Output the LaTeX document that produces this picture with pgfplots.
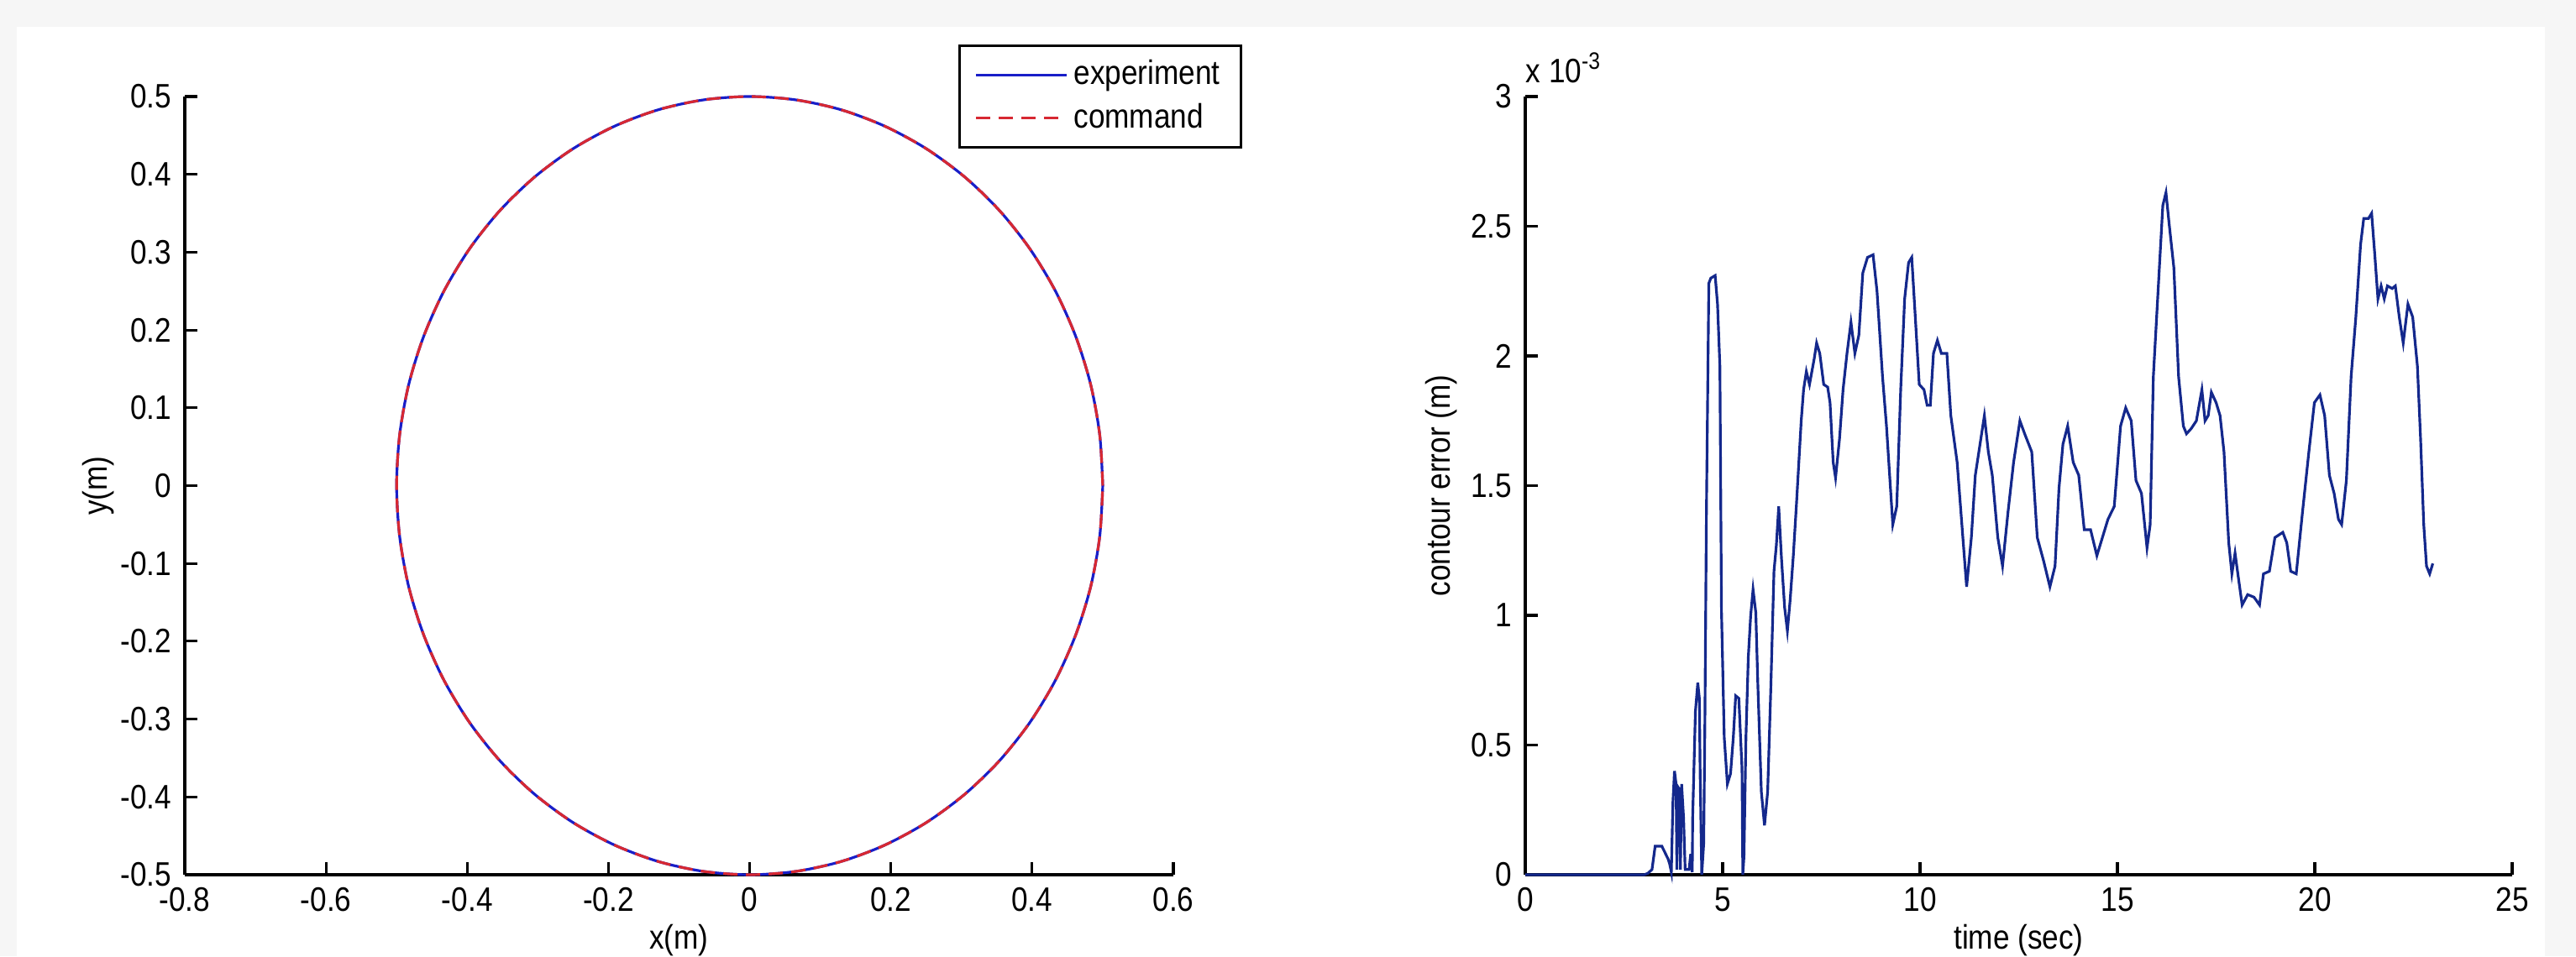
\documentclass[border=0pt]{standalone}
\usepackage{pgfplots}
\pgfplotsset{compat=1.18}
\usepackage{pgfplotstable}
\usepackage{fontspec}
\setmainfont{Liberation Sans}[FakeStretch=0.87]

\definecolor{expblue}{RGB}{25,30,200}
\definecolor{cmdred}{RGB}{215,40,50}
\definecolor{errblue}{RGB}{20,40,140}

% command circle, radius 0.5 m, every 7.5 deg
\pgfplotstableread{
x y
0.5000 0.0000
0.4957 0.0653
0.4830 0.1294
0.4619 0.1913
0.4330 0.2500
0.3967 0.3044
0.3536 0.3536
0.3044 0.3967
0.2500 0.4330
0.1913 0.4619
0.1294 0.4830
0.0653 0.4957
0.0000 0.5000
-0.0653 0.4957
-0.1294 0.4830
-0.1913 0.4619
-0.2500 0.4330
-0.3044 0.3967
-0.3536 0.3536
-0.3967 0.3044
-0.4330 0.2500
-0.4619 0.1913
-0.4830 0.1294
-0.4957 0.0653
-0.5000 0.0000
-0.4957 -0.0653
-0.4830 -0.1294
-0.4619 -0.1913
-0.4330 -0.2500
-0.3967 -0.3044
-0.3536 -0.3536
-0.3044 -0.3967
-0.2500 -0.4330
-0.1913 -0.4619
-0.1294 -0.4830
-0.0653 -0.4957
0.0000 -0.5000
0.0653 -0.4957
0.1294 -0.4830
0.1913 -0.4619
0.2500 -0.4330
0.3044 -0.3967
0.3536 -0.3536
0.3967 -0.3044
0.4330 -0.2500
0.4619 -0.1913
0.4830 -0.1294
0.4957 -0.0653
0.5000 0.0000
}\circletab

% contour error, in units of 1e-3 m
\pgfplotstableread{
t err
0 0
3.01 0
3.10 0.005
3.21 0.02
3.29 0.11
3.46 0.11
3.62 0.06
3.66 0.04
3.70 0.01
3.74 0.28
3.78 0.40
3.82 0.35
3.84 0.02
3.86 0.34
3.90 0.33
3.93 0.02
3.96 0.35
4.01 0.22
4.05 0.02
4.15 0.02
4.19 0.08
4.23 0.01
4.24 0.22
4.31 0.63
4.37 0.74
4.41 0.68
4.43 0.39
4.47 0
4.52 0.12
4.55 0.59
4.59 1.42
4.65 2.28
4.70 2.30
4.81 2.31
4.87 2.20
4.93 1.96
4.97 1.02
5.04 0.53
5.12 0.35
5.20 0.39
5.27 0.53
5.33 0.69
5.41 0.68
5.46 0.51
5.49 0.41
5.51 0
5.54 0.07
5.59 0.53
5.65 0.84
5.71 1.00
5.77 1.10
5.84 1.01
5.89 0.74
5.98 0.32
6.06 0.19
6.14 0.32
6.22 0.72
6.30 1.17
6.36 1.27
6.42 1.42
6.49 1.22
6.57 1.03
6.64 0.94
6.71 1.06
6.79 1.23
6.87 1.43
6.93 1.59
6.99 1.75
7.05 1.87
7.12 1.94
7.20 1.89
7.32 1.99
7.38 2.05
7.46 2.01
7.56 1.89
7.66 1.88
7.72 1.82
7.80 1.59
7.86 1.53
7.96 1.68
8.05 1.87
8.15 2.01
8.25 2.13
8.35 2.01
8.45 2.08
8.55 2.32
8.67 2.38
8.81 2.39
8.91 2.25
9.05 1.92
9.15 1.73
9.31 1.35
9.41 1.42
9.51 1.87
9.61 2.22
9.71 2.36
9.79 2.38
9.88 2.15
9.98 1.89
10.10 1.87
10.18 1.81
10.26 1.81
10.34 2.01
10.44 2.06
10.54 2.01
10.68 2.01
10.78 1.77
10.94 1.59
11.06 1.35
11.18 1.11
11.30 1.30
11.40 1.54
11.54 1.68
11.63 1.77
11.73 1.63
11.83 1.54
11.97 1.30
12.09 1.19
12.23 1.40
12.37 1.59
12.53 1.75
12.65 1.70
12.83 1.63
12.97 1.30
13.13 1.21
13.29 1.11
13.42 1.19
13.52 1.49
13.62 1.66
13.74 1.73
13.88 1.59
14.02 1.54
14.16 1.33
14.32 1.33
14.48 1.23
14.62 1.30
14.76 1.37
14.92 1.42
15.08 1.73
15.21 1.80
15.35 1.75
15.47 1.52
15.61 1.47
15.75 1.26
15.83 1.35
15.91 1.92
16.03 2.25
16.15 2.58
16.23 2.63
16.31 2.51
16.43 2.34
16.55 1.92
16.67 1.73
16.75 1.70
16.87 1.72
17.00 1.75
17.14 1.87
17.22 1.75
17.30 1.77
17.38 1.86
17.50 1.82
17.60 1.77
17.70 1.63
17.82 1.28
17.90 1.16
17.98 1.24
18.06 1.15
18.16 1.04
18.30 1.08
18.46 1.07
18.60 1.04
18.70 1.16
18.85 1.17
18.99 1.30
19.19 1.32
19.29 1.28
19.39 1.17
19.53 1.16
19.69 1.40
19.85 1.63
19.99 1.82
20.13 1.85
20.25 1.77
20.37 1.54
20.49 1.47
20.60 1.37
20.68 1.35
20.80 1.52
20.92 1.92
21.04 2.15
21.16 2.43
21.24 2.53
21.36 2.53
21.44 2.55
21.52 2.39
21.60 2.22
21.68 2.27
21.76 2.22
21.84 2.27
21.96 2.26
22.04 2.27
22.14 2.15
22.24 2.05
22.36 2.20
22.48 2.15
22.60 1.96
22.68 1.68
22.76 1.35
22.83 1.19
22.91 1.16
22.99 1.20
}\errtab

\pgfplotsset{
  matlab/.style={
    scale only axis,
    axis x line*=bottom, axis y line*=left,
    axis line style={black, line width=0.9pt},
    tick align=inside, major tick length=0.15cm,
    tick style={black, line width=0.9pt},
    /pgf/number format/assume math mode=true,
    xticklabel style={inner sep=0pt, yshift=-0.15cm},
    yticklabel style={inner sep=0pt, xshift=-0.15cm},
    clip=false,
  },
}

\begin{document}
\fontsize{11.5}{13.5}\selectfont
\begin{tikzpicture}
\useasboundingbox (0,0) rectangle (30.67,11.39);
\fill[gray!7] (0,0) rectangle (30.67,11.39);
\fill[white] (0.2,0) rectangle (30.3,11.07);

\begin{axis}[matlab,
  at={(2.20cm,0.97cm)}, anchor=south west,
  width=11.77cm, height=9.27cm,
  xmin=-0.8, xmax=0.6, ymin=-0.5, ymax=0.5,
  xtick={-0.8,-0.6,...,0.6}, ytick={-0.5,-0.4,...,0.5},
  xlabel={x(m)}, ylabel={y(m)},
  xlabel style={at={(axis description cs:0.5,-0.095)}, anchor=base, inner sep=0pt},
  ylabel style={at={(axis description cs:-0.079,0.5)}, rotate=0, anchor=base, inner sep=0pt},
  legend style={at={(1.0697,1.0669)}, anchor=north east, draw=black, line width=0.9pt,
    fill=white, inner xsep=0.18cm, inner ysep=0.1cm, row sep=0.02cm},
  legend cell align=left,
  legend image code/.code={\draw[#1] (0cm,0cm) -- (1.08cm,0cm);},
]
\addplot[expblue, line width=0.9pt, smooth] table[x=x, y=y] {\circletab};
\addlegendentry{experiment}
\addplot[cmdred, line width=0.9pt, smooth, dash pattern=on 0.17cm off 0.1cm] table[x=x, y=y] {\circletab};
\addlegendentry{command}
\end{axis}

\begin{axis}[matlab,
  at={(18.16cm,0.97cm)}, anchor=south west,
  width=11.75cm, height=9.27cm,
  xmin=0, xmax=25, ymin=0, ymax=3,
  xtick={0,5,...,25}, ytick={0,0.5,...,3},
  xlabel={time (sec)}, ylabel={contour error (m)},
  xlabel style={at={(axis description cs:0.5,-0.095)}, anchor=base, inner sep=0pt},
  ylabel style={at={(axis description cs:-0.0766,0.5)}, rotate=0, anchor=base, inner sep=0pt},
]
\addplot[errblue, line width=0.9pt] table[x=t, y=err] {\errtab};
\node[anchor=base west, inner sep=0pt] at (rel axis cs:0,1) [yshift=0.17cm] {x 10\textsuperscript{-3}};
\end{axis}
\end{tikzpicture}
\end{document}
